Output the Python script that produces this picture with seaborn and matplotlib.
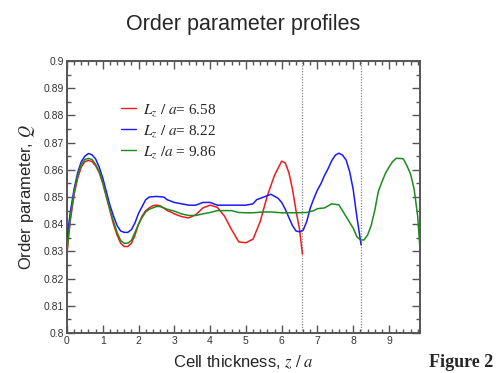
import matplotlib
matplotlib.use("Agg")
import matplotlib.pyplot as plt
import seaborn as sns
import pandas as pd
from matplotlib.ticker import MultipleLocator, FuncFormatter
from matplotlib.lines import Line2D

# ---- data -------------------------------------------------------------
lz_values = [6.58, 8.22, 9.86]
series_names = ["6.58", "8.22", "9.86"]

red_x = [0, 0.05, 0.1, 0.2, 0.3, 0.4, 0.5, 0.6, 0.7, 0.8, 0.9, 1.0, 1.1, 1.2, 1.3, 1.4,
         1.5, 1.6, 1.7, 1.8, 1.9, 2.0, 2.1, 2.2, 2.3, 2.4, 2.5, 2.6, 2.7, 2.8, 2.9, 3.0,
         3.2, 3.4, 3.6, 3.8, 4.0, 4.2, 4.4, 4.6, 4.8, 5.0, 5.2, 5.4, 5.6, 5.8, 6.0, 6.1,
         6.2, 6.3, 6.4, 6.5, 6.58]
red_q = [0.829, 0.836, 0.842, 0.851, 0.857, 0.861, 0.863, 0.8635, 0.8630, 0.8615, 0.859,
         0.855, 0.850, 0.845, 0.840, 0.836, 0.833, 0.8318, 0.8318, 0.833, 0.836, 0.840,
         0.843, 0.845, 0.846, 0.8468, 0.847, 0.8468, 0.846, 0.845, 0.8445, 0.8438,
         0.8428, 0.8423, 0.8435, 0.846, 0.847, 0.8462, 0.843, 0.838, 0.8335, 0.8332,
         0.8345, 0.841, 0.8505, 0.858, 0.8632, 0.8625, 0.859, 0.853, 0.845, 0.838, 0.829]

blue_x = [0, 0.05, 0.1, 0.2, 0.3, 0.4, 0.5, 0.6, 0.7, 0.8, 0.9, 1.0, 1.1, 1.2, 1.3, 1.4,
          1.5, 1.6, 1.7, 1.8, 1.9, 2.0, 2.1, 2.2, 2.3, 2.5, 2.7, 2.8, 3.0, 3.2, 3.4, 3.6,
          3.8, 4.0, 4.2, 4.6, 5.0, 5.2, 5.3, 5.5, 5.7, 5.9, 6.0, 6.1, 6.2, 6.3, 6.4, 6.5,
          6.6, 6.7, 6.8, 6.9, 7.0, 7.1, 7.2, 7.3, 7.4, 7.5, 7.6, 7.7, 7.8, 7.9, 8.0, 8.1,
          8.22]
blue_q = [0.834, 0.840, 0.845, 0.853, 0.859, 0.863, 0.865, 0.866, 0.8655, 0.864, 0.861,
          0.857, 0.852, 0.847, 0.843, 0.8395, 0.8375, 0.837, 0.837, 0.838, 0.8405, 0.844,
          0.8465, 0.849, 0.850, 0.8502, 0.850, 0.849, 0.848, 0.8475, 0.847, 0.847, 0.848,
          0.848, 0.847, 0.847, 0.847, 0.8475, 0.849, 0.850, 0.851, 0.8495, 0.848, 0.8455,
          0.8425, 0.8395, 0.8375, 0.8372, 0.8378, 0.841, 0.846, 0.8495, 0.8526, 0.855,
          0.858, 0.8605, 0.8634, 0.8654, 0.8661, 0.8654, 0.8636, 0.8593, 0.8526, 0.8428,
          0.8324]

green_x = [0, 0.05, 0.1, 0.2, 0.3, 0.4, 0.5, 0.6, 0.7, 0.8, 0.9, 1.0, 1.1, 1.2, 1.3, 1.4,
           1.5, 1.6, 1.7, 1.8, 1.9, 2.0, 2.1, 2.2, 2.3, 2.4, 2.5, 2.6, 2.7, 2.8, 3.0, 3.2,
           3.4, 3.6, 3.8, 4.0, 4.2, 4.6, 4.8, 5.0, 5.2, 5.5, 5.7, 6.0, 6.4, 6.7, 6.9, 7.0,
           7.2, 7.4, 7.6, 7.8, 8.0, 8.1, 8.2, 8.3, 8.4, 8.5, 8.6, 8.7, 8.8, 8.9, 9.0, 9.1,
           9.2, 9.3, 9.4, 9.5, 9.6, 9.7, 9.8, 9.86]
green_q = [0.830, 0.837, 0.843, 0.852, 0.858, 0.862, 0.8638, 0.8642, 0.8638, 0.862,
           0.8595, 0.8555, 0.8505, 0.8455, 0.841, 0.837, 0.834, 0.833, 0.833, 0.834,
           0.837, 0.840, 0.8425, 0.8445, 0.8455, 0.846, 0.8465, 0.8465, 0.846, 0.8455,
           0.8448, 0.8438, 0.8432, 0.8432, 0.8438, 0.8443, 0.845, 0.845, 0.8443, 0.8442,
           0.8442, 0.8445, 0.8445, 0.8442, 0.8442, 0.8443, 0.845, 0.8457, 0.846, 0.8475,
           0.8471, 0.8428, 0.8385, 0.8354, 0.8342, 0.8342, 0.836, 0.8395, 0.845, 0.852,
           0.8555, 0.8587, 0.861, 0.863, 0.8642, 0.8642, 0.864, 0.8615, 0.8585, 0.853,
           0.843, 0.8317]

x_ticks = [0, 1, 2, 3, 4, 5, 6, 7, 8, 9]
y_ticks = [0.8, 0.81, 0.82, 0.83, 0.84, 0.85, 0.86, 0.87, 0.88, 0.89, 0.9]

colors = ["#ee1c1c", "#1a1aff", "#1f8a1f"]

# ---- frame ------------------------------------------------------------
frames = []
for name, xs, qs in zip(series_names, [red_x, blue_x, green_x], [red_q, blue_q, green_q]):
    frames.append(pd.DataFrame({"z": xs, "Q": qs, "Lz": name}))
df = pd.concat(frames, ignore_index=True)

sns.set_theme(style="white")
plt.rcParams["font.family"] = ["Liberation Sans", "DejaVu Sans"]
plt.rcParams["mathtext.fontset"] = "stix"

fig = plt.figure(figsize=(4.98, 3.73), dpi=100)
ax = fig.add_axes([0.1345, 0.1072, 0.7085, 0.7293])

for v in lz_values[:2]:
    ax.axvline(v, color="#888888", linestyle=(0, (1, 1.2)), linewidth=0.9, zorder=1)

sns.lineplot(data=df, x="z", y="Q", hue="Lz", palette=colors, sort=False,
             estimator=None, linewidth=1.1, ax=ax, legend=False, zorder=3)

ax.set_xlim(0, 9.86)
ax.set_ylim(0.8, 0.9)
ax.set_xticks(x_ticks)
ax.set_yticks(y_ticks)
ax.xaxis.set_minor_locator(MultipleLocator(0.2))
ax.yaxis.set_minor_locator(MultipleLocator(0.005))
ax.yaxis.set_major_formatter(FuncFormatter(lambda v, p: f"{round(v, 3):g}"))
ax.tick_params(which="both", direction="in", top=True, right=True,
               bottom=True, left=True, color="#555555", labelsize=7.5,
               labelcolor="#333333", pad=2)
ax.tick_params(which="major", length=6, width=1.0)
ax.tick_params(which="minor", length=3, width=1.0)
for s in ax.spines.values():
    s.set_color("#555555")
    s.set_linewidth(1.4)

ax.set_xlabel(r"Cell thickness, $z\ /\ a$", fontsize=12, labelpad=5)
ax.set_ylabel(r"Order parameter, $Q$", fontsize=12, labelpad=5)
ax.set_title("Order parameter profiles", fontsize=15.5, pad=22)

# legend
handles = [Line2D([], [], color=c, linewidth=1.0) for c in colors]
labels = [r"$L_z\ /\ a$= " + series_names[0],
          r"$L_z\ /\ a$= " + series_names[1],
          r"$L_z\ /a$ = " + series_names[2]]
leg = ax.legend(handles, labels, loc="upper left", bbox_to_anchor=(0.135, 0.87),
                frameon=False, handlelength=1.0, handletextpad=0.45,
                labelspacing=0.32, borderaxespad=0,
                prop={"family": "Liberation Serif", "size": 11})

fig.text(0.862, 0.016, "Figure 2", fontsize=13, fontweight="bold",
         family="Liberation Serif", ha="left", va="baseline")

fig.savefig("out.png", dpi=100)
